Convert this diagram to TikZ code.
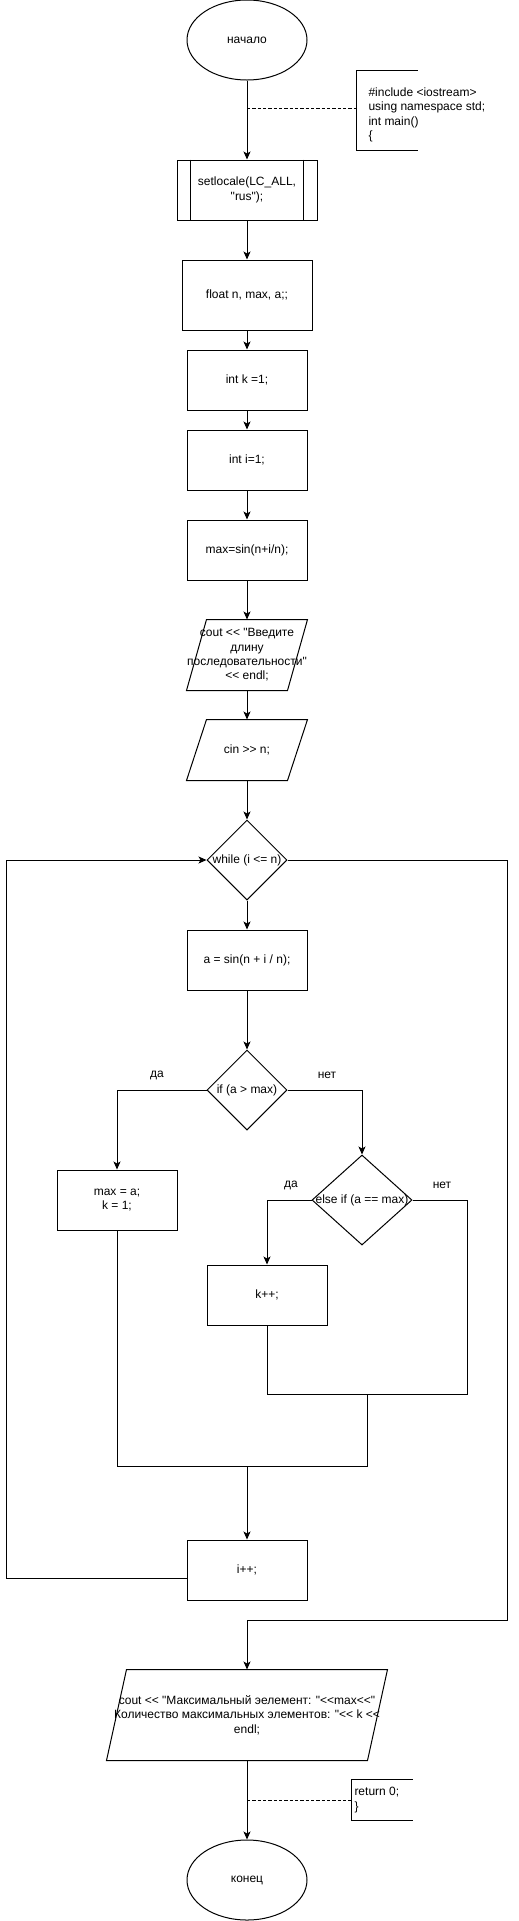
\documentclass[tikz,border=0pt]{standalone}
\usepackage{fontspec}
\setmainfont{Liberation Sans}[Ligatures=TeXOff]
\usetikzlibrary{shapes.geometric,arrows.meta}
\begin{document}
\begin{tikzpicture}[x=0.75pt,y=-0.75pt,line width=0.75pt,>={Stealth[length=6pt,width=5.25pt,inset=1.5pt]},
    every node/.style={font=\fontsize{9}{10.8}\selectfont},
    box/.style={draw,rectangle,minimum width=90pt,minimum height=45pt,inner sep=0pt,align=center},
    term/.style={draw,ellipse,minimum width=90pt,minimum height=60pt,inner sep=0pt},
    dec/.style={draw,diamond,minimum width=60pt,minimum height=60pt,inner sep=0pt},
    proc/.style={box,minimum width=105pt,append after command={\pgfextra{
        \draw ([xshift=10.5pt]\tikzlastnode.north west) -- ([xshift=10.5pt]\tikzlastnode.south west)
              ([xshift=-10.5pt]\tikzlastnode.north east) -- ([xshift=-10.5pt]\tikzlastnode.south east);}}},
    io/.style={box,draw=none,append after command={\pgfextra{
        \draw ([xshift=15pt]\tikzlastnode.north west) -- (\tikzlastnode.north east)
              -- ([xshift=-15pt]\tikzlastnode.south east) -- (\tikzlastnode.south west) -- cycle;}}},
    note/.style={rectangle,minimum width=45pt,inner sep=0pt},
    dashline/.style={dash pattern=on 2.5pt off 1.5pt}]
    \useasboundingbox (0,0) rectangle (518,1921);
    \node[term] (start) at (247,40) {начало};
    \node[proc] (setl) at (247,190) {setlocale(LC\_ALL,\\"rus");};
    \node[box,minimum width=97.5pt,minimum height=52.5pt] (flt) at (247,295) {float n, max, a;;};
    \node[box] (intk) at (247,380) {int k =1;};
    \node[box] (inti) at (247,460) {int i=1;};
    \node[box] (maxs) at (247,550) {max=sin(n+i/n);};
    \node[io,minimum height=52.5pt] (ask) at (247,655) {cout << "Введите\\длину\\последовательности"\\<< endl;};
    \node[io] (cinn) at (247,750) {cin >> n;};
    \node[dec,label=center:{while (i <= n)}] (whl) at (247,860) {};
    \node[box] (calc) at (247,960) {a = sin(n + i / n);};
    \node[dec,label=center:{if (a > max)}] (ifa) at (247,1090) {};
    \node[box] (mxk) at (117,1200) {max = a;\\k = 1;};
    \node[dec,minimum width=75pt,minimum height=67.5pt,label=center:{else if (a == max)}] (elif) at (362,1200) {};
    \node[box] (kpp) at (267,1295) {k++;};
    \node[box] (ipp) at (247,1570) {i++;};
    \node[io,minimum width=210pt,minimum height=67.5pt] (outp) at (247,1715) {cout << "Максимальный эелемент: "<<max<<"\\Количество максимальных элементов: "<< k <<\\endl;};
    \node[term] (stop) at (247,1880) {конец};
    \node (yes1) at (157,1075) {да};
    \node (no1) at (327,1075) {нет};
    \node (yes2) at (291,1185) {да};
    \node (no2) at (442,1185) {нет};
    \node[note,minimum height=59.25pt] (inc) at (387,110.5) {};
    \node[anchor=west,align=left,inner sep=0pt] (inctext) at (368,115) {\#include <iostream>\\using namespace std;\\int main()\\\{};
    \node[note,minimum height=30pt] (ret) at (382,1800) {};
    \node[anchor=west,align=left,inner sep=0pt] (rettext) at (354,1800) {return 0;\\\}};
    \coordinate (incTap) at (247,108);
    \coordinate (retTap) at (247,1800);
    \coordinate (jk) at (367,1394);
    \coordinate (jm) at (247,1466);
    \coordinate (ex) at (247,1620);
    \foreach \a/\b in {start/setl,setl/flt,flt/intk,intk/inti,inti/maxs,maxs/ask,ask/cinn,cinn/whl,whl/calc,calc/ifa,jm/ipp,outp/stop}
        \draw[->] (\a) -- (\b);
    \draw[->] (ifa.west) -| (mxk.north);
    \draw[->] (ifa.east) -| (elif.north);
    \draw[->] (elif.west) -| (kpp.north);
    \draw (elif.east) -- ++(55,0) |- (jk);
    \draw (kpp.south) |- (jk);
    \draw (mxk.south) |- (jm);
    \draw (jk) |- (jm);
    \draw[->] ([yshift=-6pt]ipp.west) -- ++(-180,0) |- (whl.west);
    \draw[->] (whl.east) -- ++(220,0) |- (ex) -- (outp.north);
    \draw[dashline] (incTap) -- (inc.west |- incTap);
    \draw[dashline] (retTap) -- (ret.west);
    \draw (inc.north east) -- (inc.north west) -- (inc.south west) -- (inc.south east);
    \draw (ret.north east) -- (ret.north west) -- (ret.south west) -- (ret.south east);
\end{tikzpicture}
\end{document}
